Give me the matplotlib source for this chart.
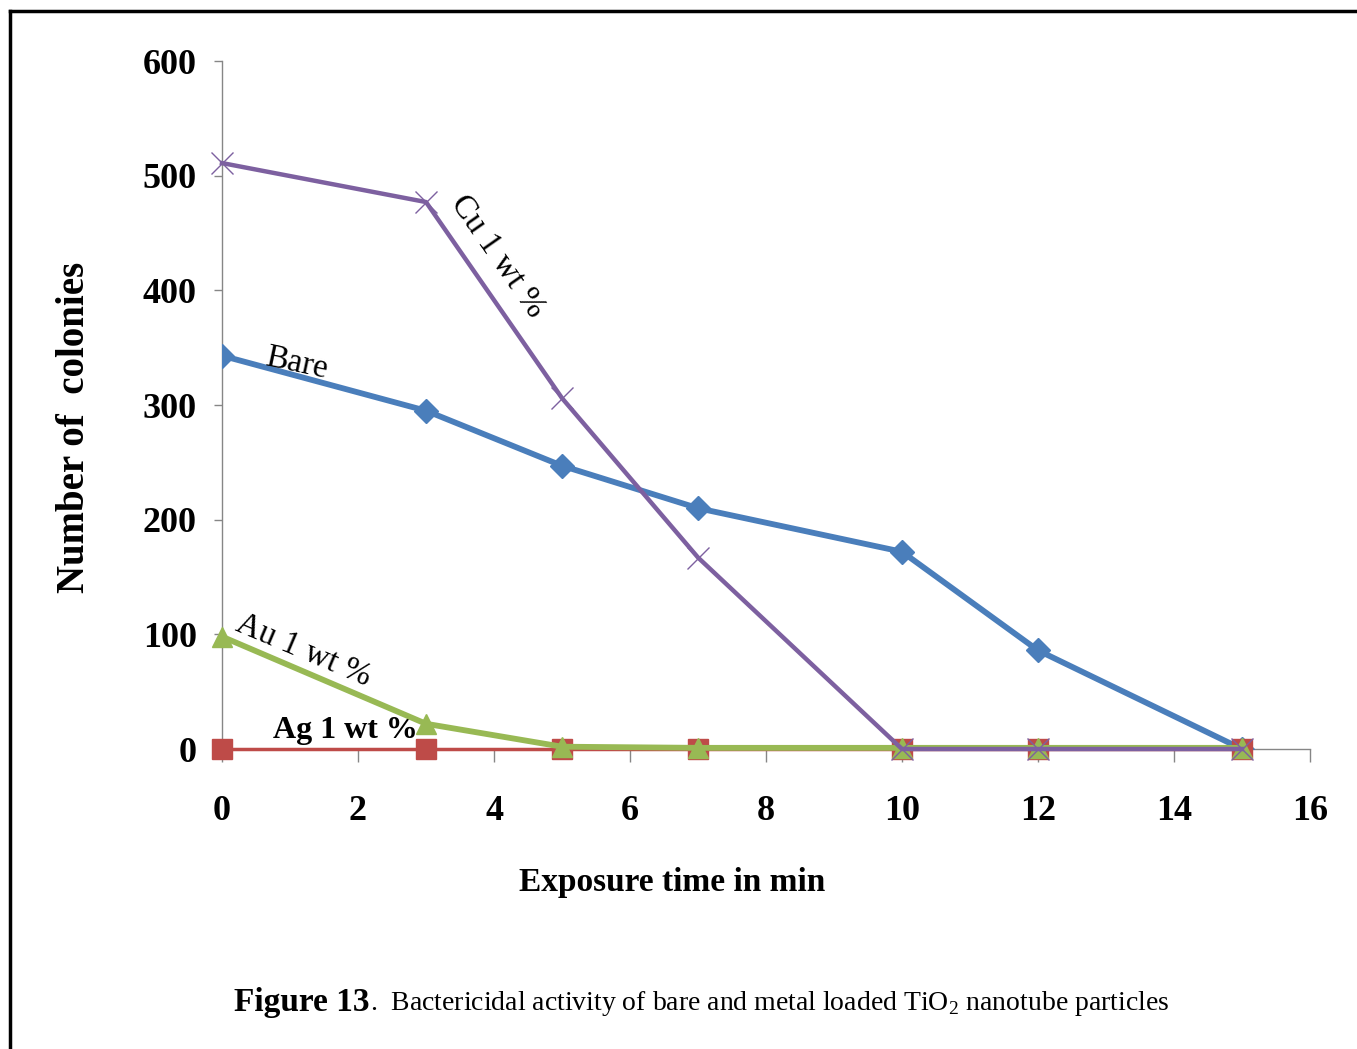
import matplotlib
matplotlib.use("Agg")
import matplotlib.pyplot as plt
from matplotlib.lines import Line2D

plt.rcParams["font.family"] = ["Liberation Serif", "DejaVu Serif"]
plt.rcParams["mathtext.fontset"] = "custom"
plt.rcParams["mathtext.rm"] = "Liberation Serif"

# exposure time (min) and colony counts
time = [0, 3, 5, 7, 10, 12, 15]
bare = [343, 295, 247, 210, 172, 86, 0]
ag_1wt = [0, 0, 0, 0, 0, 0, 0]
au_1wt = [98, 22, 2, 1, 1, 1, 1]
cu_1wt = [511, 477, 306, 167, 0, 0, 0]

x_ticks = [0, 2, 4, 6, 8, 10, 12, 14, 16]
y_ticks = [0, 100, 200, 300, 400, 500, 600]

BLUE, RED, GREEN, PURPLE = "#4A7EBB", "#BE4B48", "#98B954", "#7D60A0"
GREY = "#868686"

W, H = 1357, 1049
fig = plt.figure(figsize=(W / 100, H / 100), dpi=100)
ax = fig.add_axes([222 / W, 1 - 749 / H, (1310 - 222) / W, (749 - 61) / H])

ax.plot(time, bare, color=BLUE, lw=4.2, marker="D", ms=12, mfc=BLUE, mec=BLUE, zorder=3)
ax.plot(time, ag_1wt, color=RED, lw=2.5, marker="s", ms=14, mfc=RED, mec=RED, zorder=4,
        clip_on=False)
ax.plot(time, au_1wt, color=GREEN, lw=4.2, marker="^", ms=14, mfc=GREEN, mec=GREEN, zorder=5,
        clip_on=False)
ax.plot(time, cu_1wt, color=PURPLE, lw=3.2, marker="x", ms=16, mew=1.0, zorder=6, clip_on=False)

ax.set_xlim(0, 16); ax.set_ylim(0, 600)
ax.set_xticks(x_ticks); ax.set_yticks(y_ticks)
for s in ["top", "right"]:
    ax.spines[s].set_visible(False)
for s in ["left", "bottom"]:
    ax.spines[s].set_color(GREY); ax.spines[s].set_linewidth(1.0)
ax.tick_params(axis="x", direction="out", length=9, width=1, color=GREY, pad=24,
               labelsize=26)
ax.tick_params(axis="y", direction="out", length=6, width=1, color=GREY, pad=12,
               labelsize=26)
for lab in ax.get_xticklabels() + ax.get_yticklabels():
    lab.set_fontweight("bold")

# axis titles placed where the original has them (not centred on the axes)
fig.text(672 / W, 1 - 882 / H, "Exposure time in min", fontsize=24, fontweight="bold",
         ha="center", va="center")
fig.text(75 / W, 1 - 427 / H, "Number of  colonies", fontsize=28, fontweight="bold",
         ha="center", va="center", rotation=90)

# in-plot series labels
ax.text(4.05, 430, "Cu 1 wt %", rotation=-55, fontsize=24, ha="center", va="center",
        rotation_mode="anchor")
ax.text(1.09, 336, "Bare", rotation=-12, fontsize=24, ha="center", va="center",
        rotation_mode="anchor")
ax.text(1.2, 86, "Au 1 wt %", rotation=-23, fontsize=24, ha="center", va="center",
        rotation_mode="anchor")
ax.text(1.82, 16, "Ag 1 wt %", fontsize=23, fontweight="bold", ha="center", va="center")

# caption
fig.text(234 / W, 1 - 1003 / H, "Figure 13", fontsize=24, fontweight="bold",
         ha="left", va="center")
fig.text(370 / W, 1 - 1003 / H, ".  Bactericidal activity of bare and metal loaded TiO$_2$ nanotube particles",
         fontsize=20, ha="left", va="center")

# page frame
fig.add_artist(Line2D([10 / W, 10 / W], [0, 1 - 11 / H], transform=fig.transFigure,
                      color="black", lw=2.5))
fig.add_artist(Line2D([10 / W, 1], [1 - 11 / H, 1 - 11 / H], transform=fig.transFigure,
                      color="black", lw=2.5))

fig.savefig("out.png", dpi=100)
